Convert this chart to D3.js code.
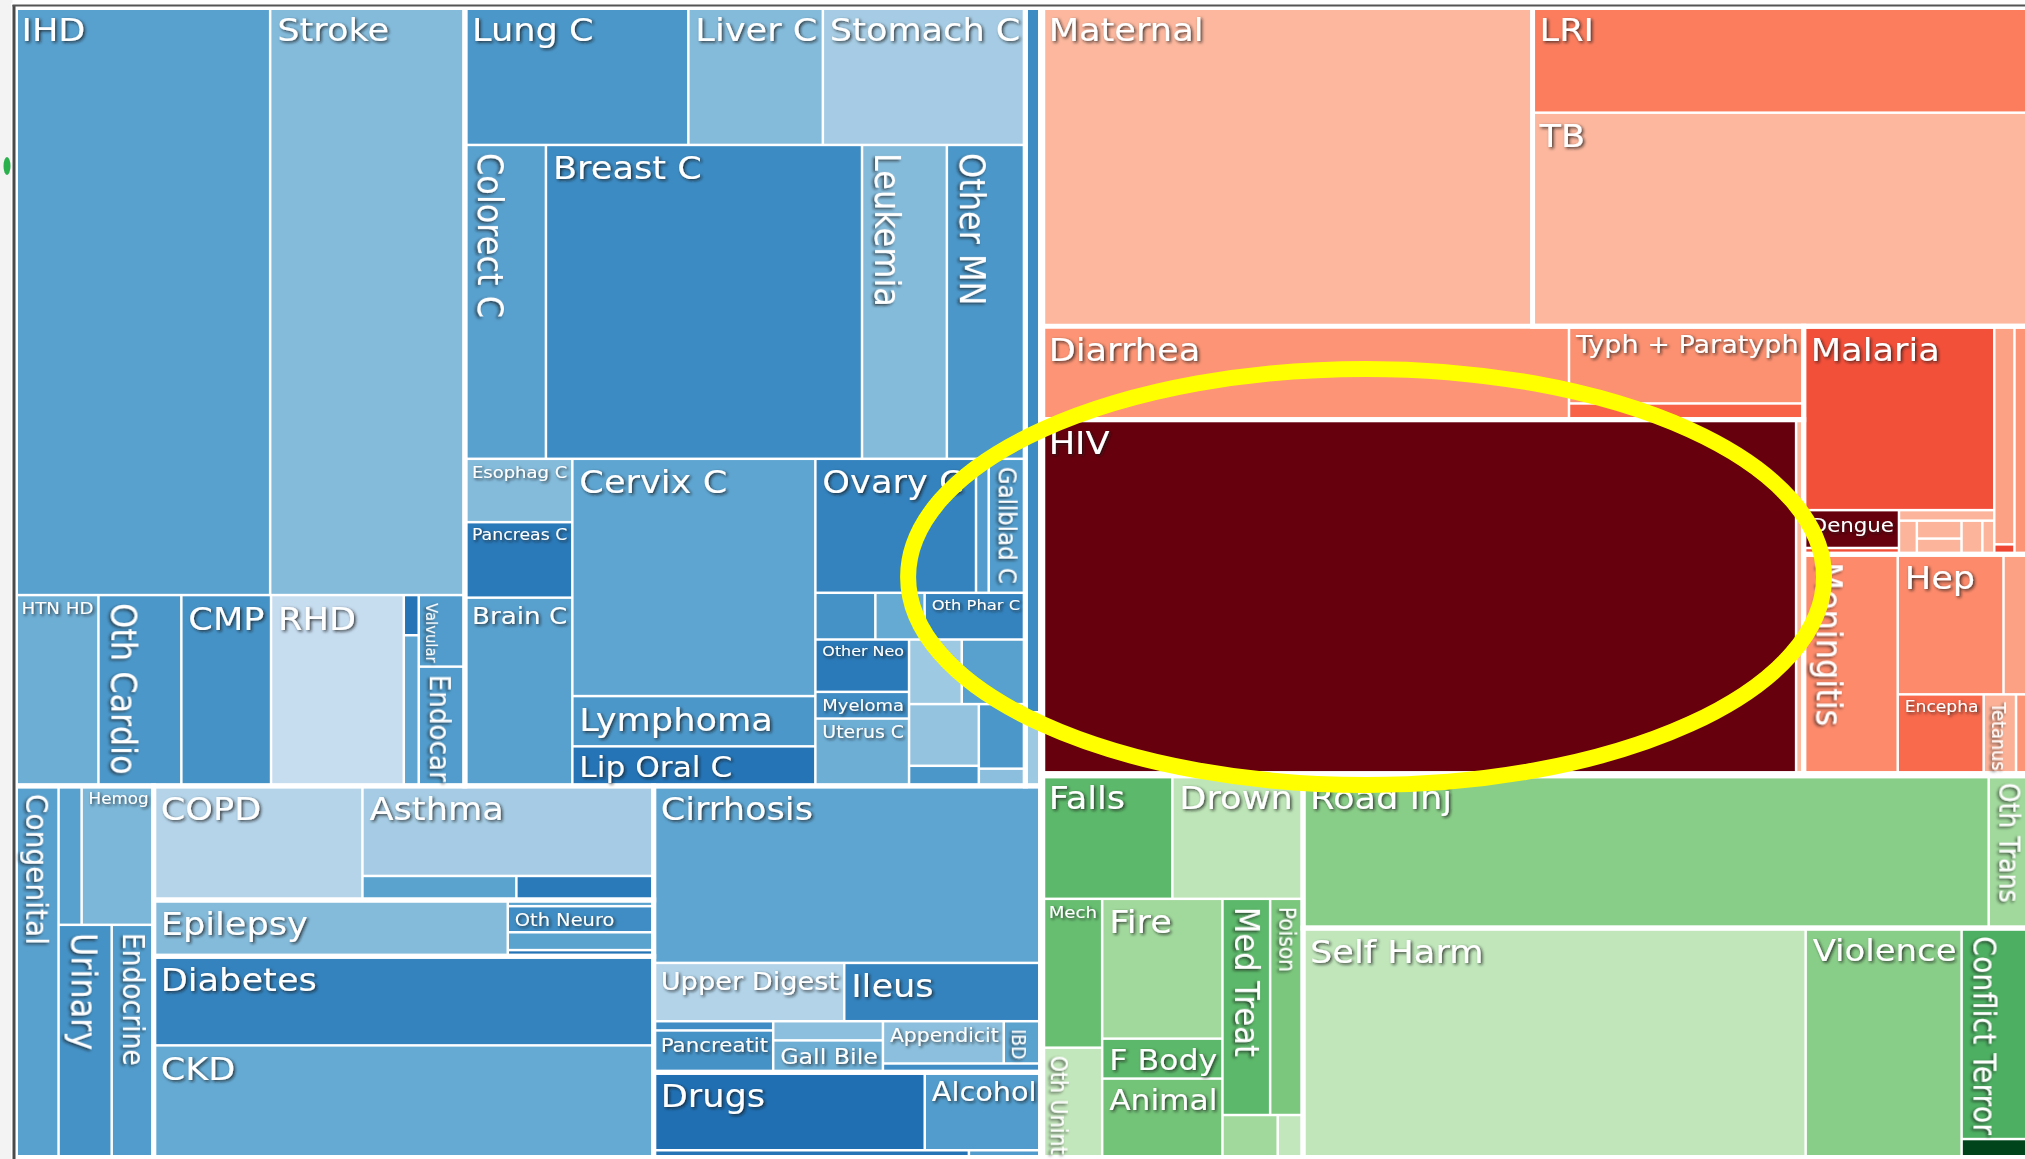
<!DOCTYPE html>
<meta charset="utf-8">
<style>
    body { margin: 0; background: #fff; }
    svg { display: block; font-family: "DejaVu Sans", Verdana, sans-serif; }
    .label { fill: #fff; pointer-events: none; }
</style>
<svg width="2025" height="1159"></svg>
<script src="https://d3js.org/d3.v7.min.js"></script>
<script>
    // ---- data (cell sizes in thousand px², shade = position on the colour ramp) ----
    // '' = cell too small to carry a label in the original

    // non-communicable diseases (blue)
    const ncdCauses = ["IHD", "Stroke", "HTN HD", "Oth Cardio", "CMP", "RHD", "", "", "Valvular", "Endocar",
        "Lung C", "Liver C", "Stomach C", "Colorect C", "Breast C", "Leukemia", "Other MN",
        "Esophag C", "Pancreas C", "Brain C", "Cervix C", "Lymphoma", "Lip Oral C",
        "Ovary C", "", "Gallblad C", "", "", "Oth Phar C", "Other Neo", "Myeloma", "Uterus C",
        "", "", "", "", "", "", "", "",
        "Congenital", "", "Hemog", "Urinary", "Endocrine",
        "COPD", "Asthma", "", "", "Epilepsy", "", "Oth Neuro", "", "", "Diabetes", "CKD",
        "Cirrhosis", "Upper Digest", "Ileus", "", "Pancreatit", "", "Gall Bile", "Appendicit", "IBD", "",
        "Drugs", "Alcohol", "", ""];
    const ncdValues = [150.3, 114.5, 16.0, 15.8, 17.1, 25.3, 0.6, 2.25, 3.3, 5.5,
        30.9, 18.6, 28.0, 25.4, 99.1, 26.6, 24.6,
        6.8, 8.1, 20.2, 57.6, 12.2, 9.6,
        21.5, 1.7, 4.9, 2.8, 2.3, 4.7, 4.9, 2.5, 6.3,
        3.4, 4.1, 4.3, 1.4, 3.0, 0.8, 11.5, 1.2,
        16.4, 3.2, 10.0, 12.4, 9.8,
        23.8, 26.2, 3.7, 3.3, 19.9, 0.9, 3.8, 2.6, 0.9, 44.5, 56.5,
        68.6, 11.1, 11.5, 1.1, 5.0, 2.1, 3.5, 5.1, 1.6, 1.4,
        21.1, 9.1, 2.6, 0.6];
    const ncdShade = [.56, .44, .50, .60, .62, .24, .74, .54, .58, .58,
        .60, .44, .35, .56, .65, .44, .60,
        .44, .72, .56, .54, .60, .74,
        .68, .58, .58, .62, .52, .68, .72, .64, .50,
        .37, .56, .40, .60, .60, .42, .65, .37,
        .56, .56, .46, .62, .58,
        .30, .35, .55, .72, .44, .55, .64, .55, .74, .68, .52,
        .54, .31, .68, .64, .62, .42, .50, .42, .55, .64,
        .76, .58, .74, .58];

    // communicable, maternal, neonatal (red)
    const cmnnCauses = ["Maternal", "LRI", "TB", "Diarrhea", "Typh + Paratyph", "", "HIV", "",
        "Malaria", "Dengue", "", "", "", "", "", "", "", "", "", "",
        "Meningitis", "Hep", "", "Encepha", "Tetanus", ""];
    const cmnnValues = [156.8, 52.6, 105.8, 49.2, 18.1, 3.8, 267.6, 2.7,
        35.0, 3.6, 0.6, 1.0, 0.6, 0.8, 0.7, 0.7, 0.4, 4.4, 0.2, 3.2,
        20.7, 14.8, 3.5, 6.9, 2.6, 1.0];
    const cmnnShade = [.26, .44, .26, .37, .38, .52, 1, .25,
        .57, 1, .57, .27, .27, .27, .27, .27, .27, .33, .6, .37,
        .40, .40, .33, .50, .28, .37];

    // injuries (green)
    const injCauses = ["Falls", "Drown", "Mech", "Oth Unint", "Fire", "F Body", "Animal", "Med Treat", "Poison", "", "",
        "Road Inj", "Oth Trans", "Self Harm", "Violence", "Conflict Terror", ""];
    const injValues = [16.2, 16.2, 9.0, 6.7, 16.8, 4.8, 9.6, 10.3, 7.1, 2.4, 1.1,
        105.0, 6.1, 115.7, 35.9, 14.1, 1.3];
    const injShade = [.56, .28, .53, .26, .37, .56, .50, .56, .48, .37, .26,
        .44, .37, .27, .44, .60, 1];

    // how the original tool tiled each family: h = side by side, v = stacked,
    // upper case = a cause group (drawn with a wider gap); numbers index the arrays above
    const ncdTiles = ["v",
        ["h",
            ["V", ["h", 0, 1], ["h", 2, 3, 4, 5, ["v", 6, 7], ["v", 8, 9]]],
            ["V", ["h", 10, 11, 12], ["h", 13, 14, 15, 16],
                ["h", ["v", 17, 18, 19], ["v", 20, 21, 22],
                    ["v", ["h", 23, 24, 25], ["h", 26, 27, 28],
                        ["h", ["v", 29, 30, 31], ["v", ["h", 32, 33], ["h", ["v", 34, 35], ["v", 36, 37]]]]]]],
            ["V", 38, 39]],
        ["h",
            ["H", 40, ["v", ["h", 41, 42], ["h", 43, 44]]],
            ["v", ["H", 45, ["v", 46, ["h", 47, 48]]], ["H", 49, ["v", 50, 51, 52, 53]], ["V", 54, 55]],
            ["v", ["V", 56, ["h", 57, 58], ["h", ["v", 59, 60], ["v", 61, 62], ["v", ["h", 63, 64], 65]]],
                ["V", ["h", 66, 67], ["h", 68, 69]]]]];
    const cmnnTiles = ["v",
        ["h", 0, ["V", 1, 2]],
        ["h",
            ["v", ["H", 3, ["v", 4, 5]], ["H", 6, 7]],
            ["v", ["H", ["v", 8, ["h", ["v", 9, 10], ["v", 11, ["h", 12, ["v", 13, 14], 15, 16]]]], ["v", 17, 18], 19],
                ["H", 20, ["v", ["h", 21, 22], ["h", 23, 24, 25]]]]]];
    const injTiles = ["h",
        ["V", ["h", 0, 1], ["h", ["v", 2, 3], ["v", 4, 5, 6], ["v", ["h", 7, 8], ["h", 9, 10]]]],
        ["v", ["H", 11, 12], ["H", 13, 14, ["v", 15, 16]]]];

    const verticalLabels = ["Colorect C", "Leukemia", "Other MN", "Gallblad C", "Oth Cardio", "Valvular", "Endocar",
        "Congenital", "Urinary", "Endocrine", "IBD", "Meningitis", "Tetanus", "Med Treat", "Poison",
        "Oth Unint", "Oth Trans", "Conflict Terror"];

    // ---- layout ----
    var svg = d3.select("svg"),
        area = {x0: 14.5, y0: 6.5, x1: 2028.5, y1: 1158.5},
        stretch = 1.1;   // the original's lettering is drawn wide

    let families = [
        {causes: ncdCauses, values: ncdValues, shade: ncdShade, tiles: ncdTiles, color: d3.scaleSequential(d3.interpolateBlues).domain([0, 1])},
        {causes: cmnnCauses, values: cmnnValues, shade: cmnnShade, tiles: cmnnTiles, color: d3.scaleSequential(d3.interpolateReds).domain([0, 1])},
        {causes: injCauses, values: injValues, shade: injShade, tiles: injTiles, color: d3.scaleSequential(d3.interpolateGreens).domain([0, 1])}
    ];

    function build(spec, fam) {
        if (typeof spec === "number") {
            return {name: fam.causes[spec], value: fam.values[spec], shade: fam.shade[spec], fam: fam};
        }
        let [dir, ...kids] = spec;
        return {dir: dir.toLowerCase(), group: dir !== dir.toLowerCase(), children: kids.map(k => build(k, fam))};
    }

    let famNodes = families.map(f => Object.assign(build(f.tiles, f), {family: true}));
    let rootData = {dir: "h", children: [famNodes[0], {dir: "v", children: [famNodes[1], famNodes[2]]}]};

    let root = d3.hierarchy(rootData).sum(d => d.value || 0);
    d3.treemap()
        .size([area.x1 - area.x0, area.y1 - area.y0])
        .tile(function (node, x0, y0, x1, y1) {
            (node.data.dir === "h" ? d3.treemapDice : d3.treemapSlice)(node, x0, y0, x1, y1);
        })(root);

    // text shadow
    let defs = svg.append("defs");
    defs.append("filter").attr("id", "shadow")
        .attr("x", "-20%").attr("y", "-20%").attr("width", "140%").attr("height", "140%")
        .append("feDropShadow")
        .attr("dx", 1.5).attr("dy", 1.5).attr("stdDeviation", 1.6)
        .attr("flood-color", "#1a1a1a").attr("flood-opacity", 0.8);

    // page edge left of the frame
    svg.append("rect").attr("x", 0).attr("y", 0).attr("width", 12.5).attr("height", 1159).attr("fill", "#f3f3f3");

    let g = svg.append("g").attr("transform", `translate(${area.x0},${area.y0})`);
    let leaves = root.leaves();

    g.append("g")
        .selectAll("rect")
        .data(leaves)
        .join("rect")
        .attr("x", d => d.x0 + 1.25)
        .attr("y", d => d.y0 + 1.25)
        .attr("width", d => Math.max(0, d.x1 - d.x0 - 2.5))
        .attr("height", d => Math.max(0, d.y1 - d.y0 - 2.5))
        .attr("fill", d => d.data.fam.color(d.data.shade));

    // wider white gaps round cause groups and families
    g.append("g")
        .selectAll("rect")
        .data(root.descendants().filter(d => d.data.group || d.data.family))
        .join("rect")
        .attr("x", d => d.x0)
        .attr("y", d => d.y0)
        .attr("width", d => d.x1 - d.x0)
        .attr("height", d => d.y1 - d.y0)
        .attr("fill", "none")
        .attr("stroke", "#fff")
        .attr("stroke-width", d => d.data.family ? 7 : 5);

    // labels, sized to fit their cell
    g.append("g")
        .selectAll("text")
        .data(leaves.filter(d => d.data.name))
        .join("text")
        .attr("class", "label")
        .attr("font-size", 100)
        .text(d => d.data.name)
        .each(function (d) {
            let em = this.getComputedTextLength() / 100;
            let w = d.x1 - d.x0, h = d.y1 - d.y0;
            d.vert = verticalLabels.includes(d.data.name);
            d.fs = d.vert
                ? Math.min(32, (h - 12) / em, (w - 4) * 0.7)
                : Math.min(32, (w - 12) / (em * stretch), (h - 4) * 0.8);
        })
        .attr("font-size", d => d.fs)
        .attr("transform", d => d.vert
            ? `translate(${d.x0 + 2.5 + 0.3 * d.fs * stretch},${d.y0 + 8}) scale(${stretch},1) rotate(90)`
            : `translate(${d.x0 + 7},${d.y0 + 2.5 + d.fs}) scale(${stretch},1)`)
        .attr("filter", "url(#shadow)");

    // yellow highlight round HIV
    let hiv = leaves.find(d => d.data.name === "HIV");
    let hw = hiv.x1 - hiv.x0, hh = hiv.y1 - hiv.y0;
    g.append("ellipse")
        .attr("cx", hiv.x0 + 0.43 * hw)
        .attr("cy", hiv.y0 + 0.443 * hh)
        .attr("rx", 0.607 * hw)
        .attr("ry", 0.586 * hh)
        .attr("fill", "none")
        .attr("stroke", "#ffff00")
        .attr("stroke-width", 16);

    // frame
    svg.append("line").attr("x1", 14).attr("y1", 5).attr("x2", 14).attr("y2", 1159)
        .attr("stroke", "#4a4a4a").attr("stroke-width", 3);
    svg.append("line").attr("x1", 12.5).attr("y1", 5.5).attr("x2", 2025).attr("y2", 5.5)
        .attr("stroke", "#555").attr("stroke-width", 2);
    svg.append("ellipse").attr("cx", 7).attr("cy", 166).attr("rx", 3.5).attr("ry", 9).attr("fill", "#2bb04e");
</script>
